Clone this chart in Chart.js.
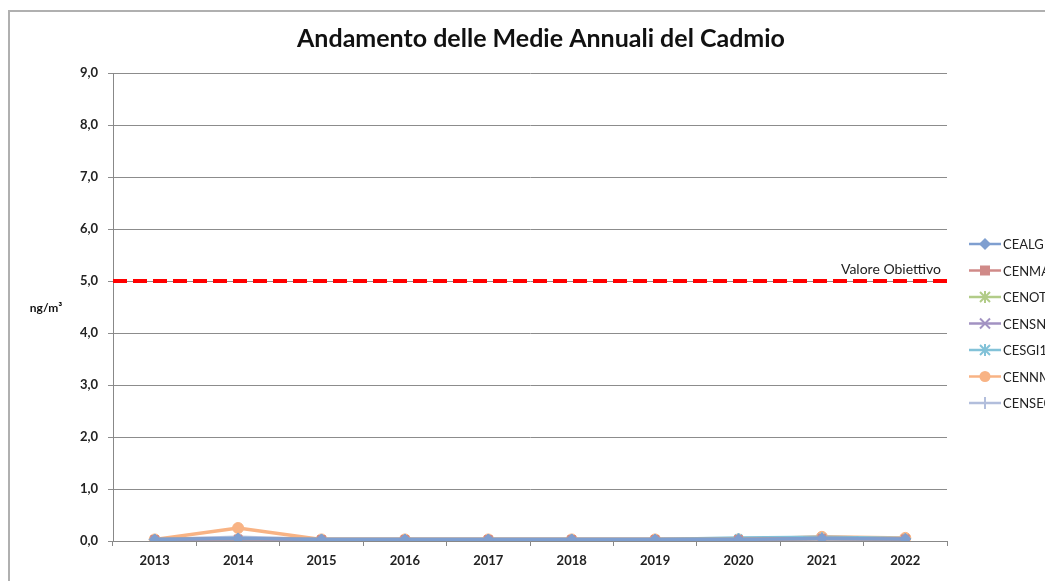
<!DOCTYPE html>
<html>
<head>
<meta charset="utf-8">
<script src="https://cdn.jsdelivr.net/npm/chart.js@4/dist/chart.umd.min.js"></script>
<style>
  body { margin: 0; background: #fff; }
  #wrap { width: 1045px; height: 581px; }
</style>
</head>
<body>
<div id="wrap"><canvas id="myChart" width="1045" height="581"></canvas></div>
<script>
// anni e valori
const years = [ '2013', '2014', '2015', '2016', '2017', '2018', '2019', '2020', '2021', '2022' ];
const stations = [ 'CEALG1', 'CENMA1', 'CENOT1', 'CENSN1', 'CESGI1', 'CENNM1', 'CENSE0' ];
const cealg = [ 0.03, 0.05, 0.03, 0.03, 0.03, 0.03, 0.03, 0.03, 0.05, 0.04 ];
const cenma = [ 0.03, 0.04, 0.03, 0.03, 0.03, 0.03, 0.03, 0.03, 0.05, 0.04 ];
const cenot = [ 0.03, 0.04, 0.03, 0.03, 0.03, 0.03, 0.03, 0.03, 0.05, 0.04 ];
const censn = [ 0.03, 0.04, 0.03, 0.03, 0.03, 0.03, 0.03, 0.03, 0.05, 0.04 ];
const cesgi = [ 0.03, 0.05, 0.03, 0.03, 0.03, 0.03, 0.03, 0.06, 0.07, 0.05 ];
const cennm = [ 0.03, 0.25, 0.03, 0.03, 0.03, 0.03, 0.03, 0.03, 0.08, 0.06 ];
const cense = [ 0.03, 0.07, 0.03, 0.03, 0.03, 0.03, 0.03, 0.04, 0.04, 0.04 ];
const yTicks = [ 0, 1, 2, 3, 4, 5, 6, 7, 8, 9 ];
const valoreObiettivo = 5;

const colors = [ '#7f9fd0', '#d08a88', '#b2cc88', '#a292c2', '#82c2d8', '#f8b384', '#b2bedc' ];
const markers = [ 'rectRot', 'rect', 'star', 'crossRot', 'star', 'circle', 'cross' ];
const series = [ cealg, cenma, cenot, censn, cesgi, cennm, cense ];

const FONT = 'Lato, "Open Sans", sans-serif';

const isOpen = m => m === 'star' || m === 'crossRot' || m === 'cross';

const datasets = series.map( ( vals, i ) => ( {
  label: stations[ i ],
  data: vals,
  borderColor: colors[ i ],
  backgroundColor: colors[ i ],
  borderWidth: 3.5,
  pointStyle: markers[ i ],
  pointRadius: isOpen( markers[ i ] ) ? 5 : 5.5,
  pointBorderWidth: isOpen( markers[ i ] ) ? 2 : 1,
  tension: 0
} ) );

// marker della legenda disegnato a mano
function marker( c, style, x, y, col ) {
  c.fillStyle = col;
  c.strokeStyle = col;
  c.lineWidth = 2;
  c.beginPath();
  if ( style === 'rectRot' ) {
    c.moveTo( x, y - 6 ); c.lineTo( x + 6, y ); c.lineTo( x, y + 6 ); c.lineTo( x - 6, y ); c.closePath(); c.fill();
  } else if ( style === 'rect' ) {
    c.fillRect( x - 5, y - 5, 10, 10 );
  } else if ( style === 'circle' ) {
    c.arc( x, y, 5.5, 0, Math.PI * 2 ); c.fill();
  } else {
    const r = 5;
    if ( style !== 'cross' ) {
      c.moveTo( x - r, y - r ); c.lineTo( x + r, y + r );
      c.moveTo( x - r, y + r ); c.lineTo( x + r, y - r );
    }
    if ( style === 'star' || style === 'cross' ) {
      c.moveTo( x, y - 6 ); c.lineTo( x, y + 6 );
    }
    if ( style === 'cross' ) {
      c.moveTo( x - 6, y ); c.lineTo( x + 6, y );
    }
    c.stroke();
  }
}

// cornice, titolo, linea obiettivo, etichette e legenda
const decor = {
  id: 'decor',
  beforeDraw( chart ) {
    const c = chart.ctx;
    c.save();
    c.strokeStyle = '#b0b0b0';
    c.lineWidth = 2;
    c.strokeRect( 9, 11, 1100, 1000 );
    c.restore();
  },
  afterDatasetsDraw( chart ) {
    const c = chart.ctx;
    const area = chart.chartArea;
    const yv = chart.scales.y.getPixelForValue( valoreObiettivo );
    c.save();
    c.strokeStyle = '#ff0000';
    c.lineWidth = 4;
    c.setLineDash( [ 14, 6 ] );
    c.beginPath();
    c.moveTo( area.left, yv );
    c.lineTo( area.right, yv );
    c.stroke();
    c.setLineDash( [] );

    c.fillStyle = '#222';
    c.font = '14px ' + FONT;
    c.textAlign = 'right';
    c.textBaseline = 'alphabetic';
    c.fillText( 'Valore Obiettivo', area.right - 6, yv - 7 );

    c.font = 'bold 25px ' + FONT;
    c.textAlign = 'center';
    c.fillStyle = '#111';
    c.fillText( 'Andamento delle Medie Annuali del Cadmio', 541, 47 );

    c.font = 'bold 12px ' + FONT;
    c.fillText( 'ng/m³', 46, 312 );

    // legenda
    c.textBaseline = 'middle';
    c.font = '13px ' + FONT;
    stations.forEach( ( name, i ) => {
      const y = 244 + i * 26.5;
      c.strokeStyle = colors[ i ];
      c.lineWidth = 2.5;
      c.beginPath();
      c.moveTo( 969, y );
      c.lineTo( 1001, y );
      c.stroke();
      marker( c, markers[ i ], 985, y, colors[ i ] );
      c.fillStyle = '#222';
      c.textAlign = 'left';
      c.fillText( name, 1003, y + 1 );
    } );
    c.restore();
  }
};

const ctx = document.getElementById( 'myChart' ).getContext( '2d' );
const myChart = new Chart( ctx, {
  type: 'line',
  data: { labels: years, datasets },
  plugins: [ decor ],
  options: {
    responsive: false,
    animation: false,
    layout: { padding: { left: 0, top: 73, right: 98, bottom: 0 } },
    plugins: {
      legend: { display: false },
      title: { display: false },
      tooltip: { enabled: false }
    },
    scales: {
      x: {
        offset: true,
        afterFit: s => { s.height = 40; },
        grid: { offset: true, drawOnChartArea: false, drawTicks: true, tickLength: 5, color: '#888' },
        border: { color: '#888' },
        ticks: { color: '#222', font: { family: FONT, size: 13, weight: 'bold' }, padding: 7, maxRotation: 0 }
      },
      y: {
        min: 0,
        max: 9,
        afterFit: s => { s.width = 113; },
        afterBuildTicks: s => { s.ticks = yTicks.map( v => ( { value: v } ) ); },
        grid: { color: '#8c8c8c', tickLength: 5 },
        border: { color: '#888' },
        ticks: {
          color: '#222',
          padding: 10,
          font: { family: FONT, size: 13, weight: 'bold' },
          callback: v => v.toFixed( 1 ).replace( '.', ',' )
        }
      }
    }
  }
} );
</script>
</body>
</html>
